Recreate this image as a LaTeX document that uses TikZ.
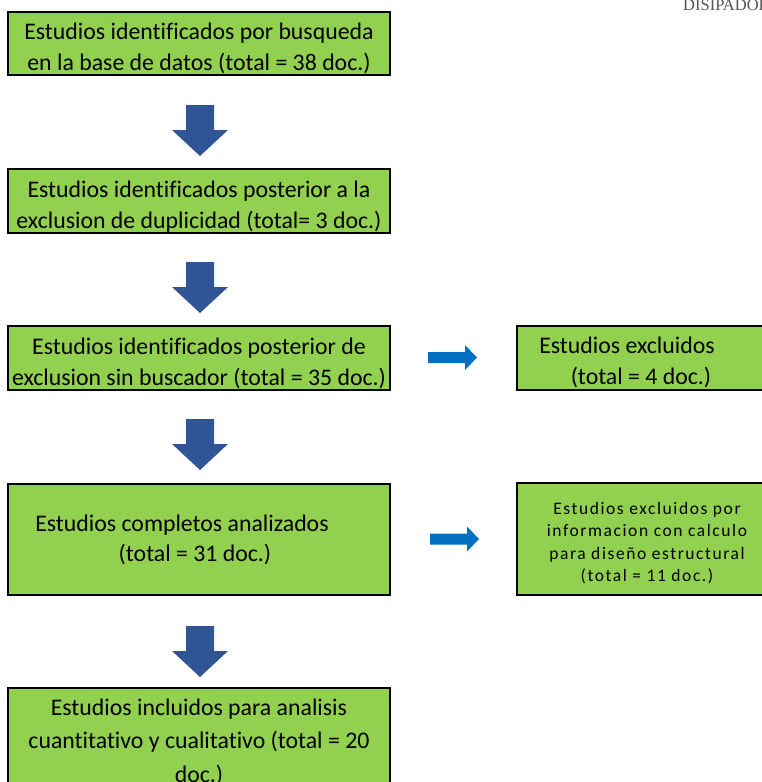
\documentclass[tikz,border=0pt]{standalone}
\usepackage{fontspec}
\setmainfont{Carlito}[Ligatures=NoCommon]
\newfontfamily\hdrfont{Liberation Serif}
\definecolor{boxgreen}{HTML}{92D050}
\definecolor{darrowc}{HTML}{2F5597}
\definecolor{rarrowc}{HTML}{0070C0}
\definecolor{hdrgray}{HTML}{555555}
\newcommand\blockdown[1]{\fill[darrowc] (#1) ++(-14,0) -- ++(28,0) -- ++(0,25) -- ++(14,0) -- ++(-28,26) -- ++(-28,-26) -- ++(14,0) -- cycle;}
\newcommand\blockright[1]{\fill[rarrowc] (#1) ++(0,-5.5) -- ++(37,0) -- ++(0,-7) -- ++(12,12.5) -- ++(-12,12.5) -- ++(0,-7) -- ++(-37,0) -- cycle;}
\newcommand\lowertxt[1]{\rule{0pt}{#1pt}}
\begin{document}
\begin{tikzpicture}[x=1pt,y=-1pt,
  box/.style={draw=black, line width=1.5pt, fill=boxgreen, minimum width=382, inner sep=0pt, align=center, font=\fontsize{23.8}{31}\selectfont},
  rbox/.style={draw=black, line width=1.5pt, fill=boxgreen, minimum width=260, inner sep=0pt, align=center}]
\useasboundingbox (0,0) rectangle (761,782);
\node[anchor=base west, text=hdrgray, font=\hdrfont\fontsize{16.5}{18}\selectfont, inner sep=0pt] (hdr) at (683,10) {DISIPADOR};
\node[box, minimum height=63] (b1) at (199,43.5) {\lowertxt{27}Estudios identificados por busqueda\\ en la base de datos (total = 38 doc.)};
\node[box, minimum height=64] (b2) at (199,201) {\lowertxt{28}Estudios identificados posterior a la\\exclusion de duplicidad (total= 3 doc.)};
\node[box, minimum height=64] (b3) at (199,358) {\lowertxt{27}Estudios identificados posterior de\\exclusion sin buscador (total = 35 doc.)};
\node[box, minimum height=111, font=\fontsize{23.8}{30}\selectfont] (b4) at (199,539.5) {Estudios completos analizados\hspace*{34pt}\\(total = 31 doc.)\hspace*{8pt}};
\node[box, minimum height=108, font=\fontsize{23.8}{33.5}\selectfont] (b5) at (199,742) {Estudios incluidos para analisis\\cuantitativo y cualitativo (total = 20\\doc.)};
\node[rbox, minimum height=64, font=\fontsize{23.8}{31}\selectfont] (r1) at (647,358) {\lowertxt{26}Estudios excluidos\hspace*{40pt}\\(total = 4 doc.)\hspace*{12pt}};
\node[rbox, minimum height=112, font=\addfontfeatures{LetterSpace=9}\fontsize{17.5}{22.5}\selectfont] (r2) at (647,539) {\lowertxt{20}Estudios excluidos por\\informacion con calculo\\para diseño estructural\\(total = 11 doc.)};
\coordinate (d1) at (200,105);
\coordinate (d2) at (200,262);
\coordinate (d3) at (200,419);
\coordinate (d4) at (200,626);
\coordinate (a1) at (428,357.5);
\coordinate (a2) at (430,539);
\blockdown{d1}
\blockdown{d2}
\blockdown{d3}
\blockdown{d4}
\blockright{a1}
\blockright{a2}
\end{tikzpicture}
\end{document}
